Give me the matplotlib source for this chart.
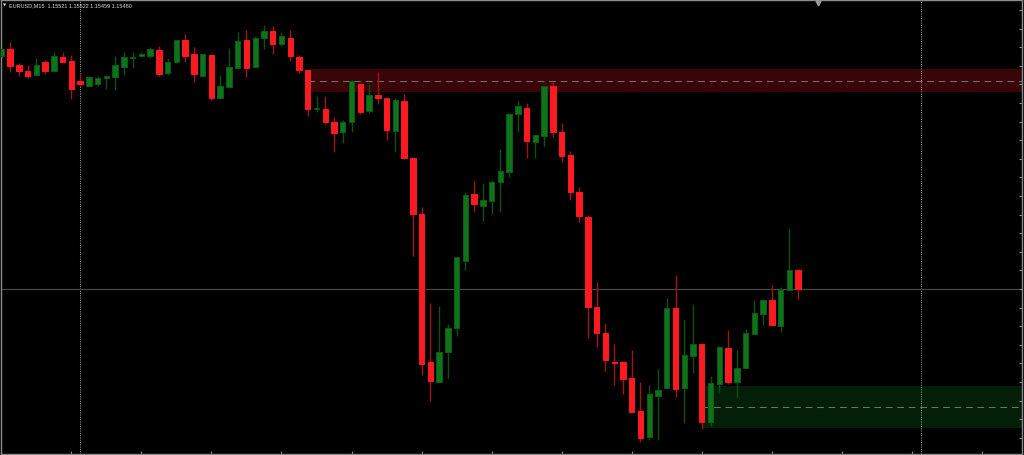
import matplotlib
matplotlib.use("Agg")
import matplotlib.pyplot as plt
import matplotlib.transforms as mtransforms
import numpy as np

# EURUSD M15 candles (oldest first)
opens = [1.15981, 1.15996, 1.15962, 1.15949, 1.15940, 1.15968, 1.15949, 1.15979, 1.15970, 1.15927,
         1.15916, 1.15921, 1.15934, 1.15936, 1.15957, 1.15977, 1.15981, 1.15981, 1.15994, 1.15944,
         1.15968, 1.16015, 1.15985, 1.15938, 1.15983, 1.15891, 1.15914, 1.15955, 1.16015, 1.15957,
         1.16020, 1.16035, 1.16007, 1.16020, 1.15979, 1.15951, 1.15867, 1.15867, 1.15839, 1.15818,
         1.15839, 1.15921, 1.15863, 1.15897, 1.15891, 1.15820, 1.15884, 1.15762, 1.15641, 1.15323,
         1.15280, 1.15345, 1.15396, 1.15540, 1.15684, 1.15658, 1.15669, 1.15710, 1.15732, 1.15856,
         1.15869, 1.15796, 1.15809, 1.15916, 1.15818, 1.15768, 1.15689, 1.15635, 1.15441, 1.15385,
         1.15323, 1.15323, 1.15289, 1.15218, 1.15162, 1.15250, 1.15267, 1.15439, 1.15267, 1.15336,
         1.15362, 1.15194, 1.15276, 1.15353, 1.15280, 1.15310, 1.15383, 1.15426, 1.15456, 1.15400,
         1.15478, 1.15521]
highs = [1.16002, 1.16011, 1.15966, 1.15962, 1.15977, 1.15972, 1.15990, 1.15990, 1.15983, 1.15944,
         1.15936, 1.15938, 1.15940, 1.15981, 1.15990, 1.15990, 1.15990, 1.16000, 1.16002, 1.15977,
         1.16015, 1.16028, 1.16000, 1.15985, 1.15985, 1.15940, 1.15998, 1.16033, 1.16037, 1.16024,
         1.16048, 1.16045, 1.16033, 1.16037, 1.15983, 1.15953, 1.15895, 1.15895, 1.15850, 1.15843,
         1.15929, 1.15921, 1.15921, 1.15947, 1.15891, 1.15891, 1.15899, 1.15762, 1.15656, 1.15450,
         1.15443, 1.15405, 1.15549, 1.15689, 1.15712, 1.15708, 1.15714, 1.15781, 1.15858, 1.15884,
         1.15880, 1.15811, 1.15916, 1.15925, 1.15837, 1.15777, 1.15699, 1.15639, 1.15495, 1.15407,
         1.15362, 1.15323, 1.15349, 1.15280, 1.15274, 1.15308, 1.15461, 1.15510, 1.15416, 1.15448,
         1.15362, 1.15293, 1.15357, 1.15392, 1.15349, 1.15394, 1.15456, 1.15456, 1.15489, 1.15484,
         1.15611, 1.15522]
lows = [1.15975, 1.15947, 1.15938, 1.15934, 1.15938, 1.15942, 1.15949, 1.15968, 1.15889, 1.15916,
        1.15916, 1.15916, 1.15910, 1.15908, 1.15940, 1.15955, 1.15981, 1.15977, 1.15938, 1.15940,
        1.15966, 1.15968, 1.15925, 1.15938, 1.15886, 1.15891, 1.15914, 1.15955, 1.15936, 1.15957,
        1.15996, 1.15985, 1.16002, 1.15970, 1.15944, 1.15852, 1.15861, 1.15835, 1.15775, 1.15794,
        1.15818, 1.15856, 1.15858, 1.15878, 1.15800, 1.15775, 1.15760, 1.15551, 1.15295, 1.15239,
        1.15278, 1.15289, 1.15379, 1.15521, 1.15646, 1.15626, 1.15641, 1.15646, 1.15721, 1.15818,
        1.15762, 1.15762, 1.15787, 1.15807, 1.15753, 1.15671, 1.15624, 1.15375, 1.15355, 1.15304,
        1.15274, 1.15254, 1.15216, 1.15151, 1.15155, 1.15155, 1.15267, 1.15248, 1.15192, 1.15299,
        1.15179, 1.15185, 1.15259, 1.15276, 1.15246, 1.15310, 1.15383, 1.15403, 1.15400, 1.15388,
        1.15478, 1.15459]
closes = [1.15996, 1.15959, 1.15949, 1.15938, 1.15962, 1.15949, 1.15981, 1.15968, 1.15910, 1.15921,
          1.15936, 1.15934, 1.15938, 1.15962, 1.15979, 1.15978, 1.15985, 1.15996, 1.15942, 1.15968,
          1.16015, 1.15981, 1.15942, 1.15985, 1.15891, 1.15916, 1.15957, 1.16013, 1.15955, 1.16020,
          1.16035, 1.16007, 1.16024, 1.15981, 1.15951, 1.15867, 1.15869, 1.15839, 1.15815, 1.15839,
          1.15927, 1.15861, 1.15897, 1.15891, 1.15822, 1.15886, 1.15762, 1.15641, 1.15319, 1.15282,
          1.15345, 1.15396, 1.15549, 1.15682, 1.15663, 1.15671, 1.15710, 1.15734, 1.15856, 1.15873,
          1.15798, 1.15811, 1.15916, 1.15818, 1.15766, 1.15689, 1.15637, 1.15441, 1.15385, 1.15327,
          1.15321, 1.15287, 1.15216, 1.15160, 1.15254, 1.15263, 1.15439, 1.15265, 1.15338, 1.15362,
          1.15194, 1.15278, 1.15355, 1.15280, 1.15310, 1.15385, 1.15428, 1.15456, 1.15403, 1.15478,
          1.15521, 1.15480]

title = "EURUSD,M15  1.15521 1.15522 1.15459 1.15480"

# supply / demand zones (price top, price bottom, mid line) and start bar
supply_zone = (1.15953, 1.15903, 1.15927)
supply_start = 35
demand_zone = (1.15272, 1.15181, 1.15226)
demand_start = 80
separators = [9, 105]
shift_bar = 93.3

BULL = "#0f731a"
BULL_EDGE = "#0b5c14"
BULL_WICK = "#0b5210"
BEAR = "#ff1a22"
BEAR_WICK = "#a0141a"

fig = plt.figure(figsize=(10.24, 4.56), dpi=100, facecolor="black")
ax = fig.add_axes([1 / 1024, 1 / 456, 1021 / 1024, 454 / 456])
ax.set_facecolor("black")

x = np.arange(len(opens))
o = np.array(opens)
h = np.array(highs)
l = np.array(lows)
c = np.array(closes)
up = c >= o

# zones
for (top, bot, mid), start, col in [(supply_zone, supply_start, "#3a0508"),
                                    (demand_zone, demand_start, "#041f07")]:
    ax.fill_between([start, 120], bot, top, color=col, lw=0, zorder=0)
    ax.plot([start, 120], [mid, mid], color="#707070", lw=0.75,
            dashes=(6.5, 4.5), zorder=1)

# period separators and bid line
for s in separators:
    ax.axvline(s, color="#9a9a9a", lw=0.75, dashes=(1, 1.2), zorder=1)
ax.axhline(closes[-1], color="#474747", lw=0.9, zorder=1)

# wicks then bodies
ax.vlines(x[up], l[up], h[up], color=BULL_WICK, lw=1, zorder=2)
ax.vlines(x[~up], l[~up], h[~up], color=BEAR_WICK, lw=1, zorder=2)
ax.bar(x[up], (c - o)[up], bottom=o[up], width=0.62, color=BULL,
       edgecolor=BULL_EDGE, lw=0.7, zorder=3)
ax.bar(x[~up], (o - c)[~up], bottom=c[~up], width=0.62, color=BEAR,
       edgecolor=BEAR, lw=0.7, zorder=3)

ax.set_xlim((1 - 1.3) / 8.756, (1022 - 1.3) / 8.756)
ax.set_ylim(1.1512525, 1.1610135)

for sp in ax.spines.values():
    sp.set_color("#8c8c8c")
    sp.set_linewidth(1)
ax.set_xticks(np.arange(0, 117, 8))
ax.set_yticks(np.arange(1.1516, 1.1610, 0.0004))
ax.tick_params(axis="x", direction="in", length=2, color="#8c8c8c",
               labelbottom=False, top=False)
ax.tick_params(axis="y", direction="in", length=2, color="#8c8c8c",
               labelleft=False, left=False, right=True)

# chart shift marker on top edge
trans = mtransforms.blended_transform_factory(ax.transData, ax.transAxes)
ax.plot([shift_bar], [0.993], marker="v", ms=3.5, color="#9a9a9a",
        transform=trans, clip_on=False, zorder=5)

fig.text(3 / 1024, 1 - 5.5 / 456, "\u25bc", color="#d8d8d8", fontsize=3,
         va="center", ha="left")
fig.text(9 / 1024, 1 - 5.5 / 456, title, color="#d8d8d8", fontsize=4,
         family="Liberation Sans", va="center", ha="left")

fig.savefig("out.png", dpi=100, facecolor="black")
